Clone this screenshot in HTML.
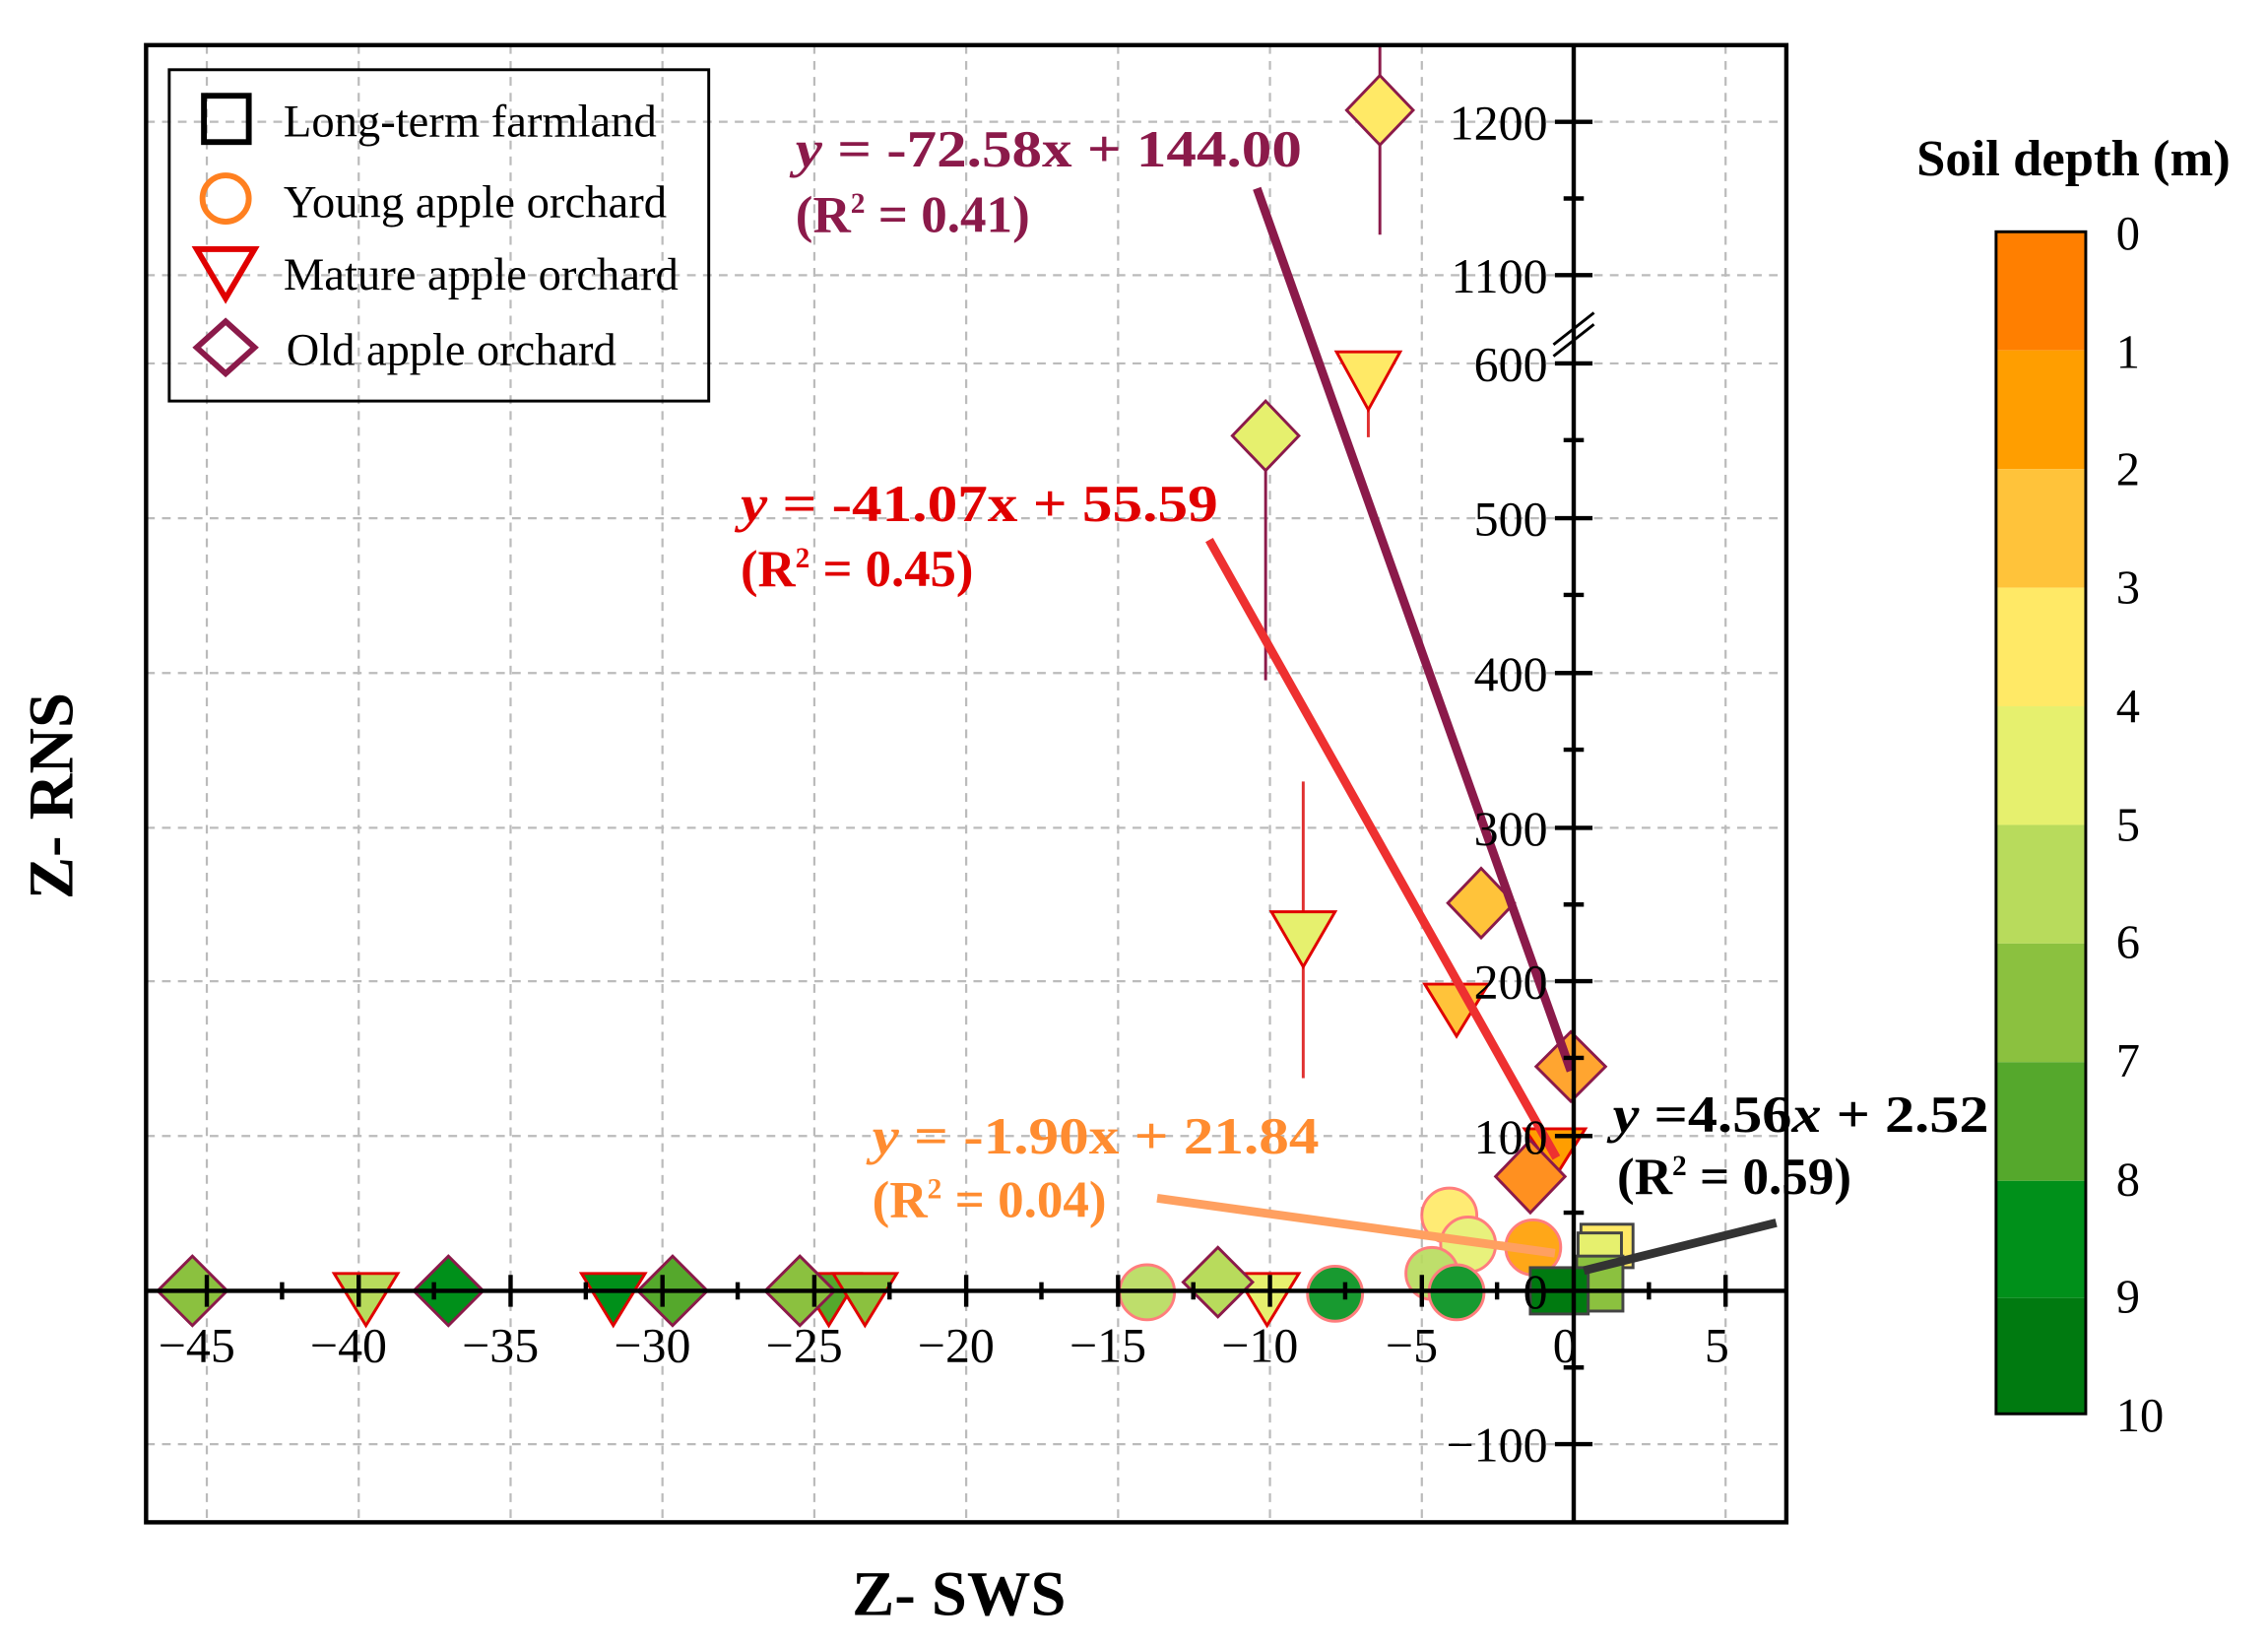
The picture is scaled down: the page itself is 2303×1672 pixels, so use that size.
<!DOCTYPE html>
<html><head><meta charset="utf-8"><style>html,body{margin:0;padding:0;background:#fff}svg{display:block}</style></head><body>
<svg width="2303" height="1672" viewBox="0 0 1568 1138" xmlns="http://www.w3.org/2000/svg" font-family="Liberation Serif, serif">
<rect width="1568" height="1138" fill="#fff"/>
<g stroke="#bbb" stroke-width="1.5" stroke-dasharray="6,5">
<line x1="143" y1="31" x2="143" y2="1052"/><line x1="248" y1="31" x2="248" y2="1052"/><line x1="353" y1="31" x2="353" y2="1052"/><line x1="458" y1="31" x2="458" y2="1052"/><line x1="563" y1="31" x2="563" y2="1052"/><line x1="668" y1="31" x2="668" y2="1052"/><line x1="773" y1="31" x2="773" y2="1052"/><line x1="878" y1="31" x2="878" y2="1052"/><line x1="983" y1="31" x2="983" y2="1052"/><line x1="1193" y1="31" x2="1193" y2="1052"/>
<line x1="101" y1="84" x2="1235" y2="84"/><line x1="101" y1="190" x2="1235" y2="190"/><line x1="101" y1="251" x2="1235" y2="251"/><line x1="101" y1="358" x2="1235" y2="358"/><line x1="101" y1="465" x2="1235" y2="465"/><line x1="101" y1="572" x2="1235" y2="572"/><line x1="101" y1="678" x2="1235" y2="678"/><line x1="101" y1="785" x2="1235" y2="785"/><line x1="101" y1="998" x2="1235" y2="998"/>
</g>
<!-- legend -->
<rect x="117" y="48" width="373" height="229" fill="none" stroke="#000" stroke-width="2"/>
<rect x="141" y="66" width="31" height="32" fill="none" stroke="#000" stroke-width="4"/>
<circle cx="156" cy="137" r="16" fill="none" stroke="#FF8020" stroke-width="4"/>
<polygon points="136,172 176,172 156,206" fill="none" stroke="#E00000" stroke-width="4"/>
<polygon points="156,222 176,240 156,258 136,240" fill="none" stroke="#8B1A4A" stroke-width="4"/>
<g font-size="32" fill="#000"><text x="196" y="94" textLength="258" lengthAdjust="spacingAndGlyphs">Long-term farmland</text><text x="196" y="150" textLength="265" lengthAdjust="spacingAndGlyphs">Young apple orchard</text><text x="196" y="200" textLength="273" lengthAdjust="spacingAndGlyphs">Mature apple orchard</text><text x="198" y="252" textLength="228" lengthAdjust="spacingAndGlyphs">Old apple orchard</text></g>
<!-- error bars -->
<g stroke-width="2"><line x1="954" y1="30" x2="954" y2="162" stroke="#8B1A4A"/><line x1="875" y1="301" x2="875" y2="470" stroke="#8B1A4A"/><line x1="946" y1="243" x2="946" y2="302" stroke="#E03030"/><line x1="901" y1="540" x2="901" y2="745" stroke="#E03030"/></g>
<!-- circles -->
<g stroke="#FF7070" stroke-width="2" opacity="0.9">
<circle cx="1002" cy="840" r="19" fill="#FFE966"/><circle cx="1015" cy="860" r="19" fill="#E6F06E"/><circle cx="1060" cy="862" r="19" fill="#FF9E00"/><circle cx="990" cy="880" r="18" fill="#B8DB5C"/><circle cx="1007" cy="893" r="19" fill="#00901A"/><circle cx="923" cy="894" r="19" fill="#00901A"/><circle cx="793" cy="893" r="19" fill="#B8DB5C"/>
</g>
<!-- squares -->
<g stroke="#444" stroke-width="2"><rect x="1093" y="846" width="36" height="30" fill="#FFE966"/><rect x="1091" y="852" width="30" height="30" fill="#E6F06E"/><rect x="1090" y="868" width="32" height="38" fill="#8BC13F"/><rect x="1058" y="876" width="40" height="32" fill="#007A10"/></g>
<!-- triangles -->
<g stroke="#E00000" stroke-width="2">
<polygon points="924,243 968,243 946,283" fill="#FFE966"/><polygon points="879,630 923,630 901,668" fill="#E6F06E"/><polygon points="985,680 1029,680 1007,716" fill="#FFC33A"/><polygon points="1054,780 1096,780 1076,812" fill="#FF9E00"/>
<polygon points="231,880 275,880 253,916" fill="#B8DB5C"/><polygon points="402,880 446,880 424,916" fill="#00901A"/><polygon points="551,880 595,880 573,916" fill="#55A82C"/><polygon points="576,880 620,880 598,916" fill="#8BC13F"/><polygon points="854,880 898,880 876,916" fill="#E6F06E"/>
</g>
<!-- diamonds -->
<g stroke="#8B1A4A" stroke-width="2">
<polygon points="954,52 977,76 954,100 931,76" fill="#FFE966"/><polygon points="875,277 898,301 875,325 852,301" fill="#E6F06E"/><polygon points="1024,600 1047,624 1024,648 1001,624" fill="#FFC33A"/><polygon points="1086,713 1110,737 1086,761 1062,737" fill="#FFA530"/><polygon points="1058,788 1082,813 1058,838 1034,813" fill="#FF9020"/>
<polygon points="133,868 157,892 133,916 109,892" fill="#8BC13F"/><polygon points="310,868 334,892 310,916 286,892" fill="#00901A"/><polygon points="465,868 489,892 465,916 441,892" fill="#55A82C"/><polygon points="553,868 577,892 553,916 529,892" fill="#8BC13F"/><polygon points="842,862 866,886 842,910 818,886" fill="#B8DB5C"/>
</g>
<!-- regression lines -->
<g stroke-width="6"><line x1="869" y1="130" x2="1086" y2="740" stroke="#8B1A4A"/><line x1="836" y1="373" x2="1076" y2="800" stroke="#EE3030"/><line x1="800" y1="828" x2="1075" y2="866" stroke="#FFA060"/><line x1="1095" y1="878" x2="1228" y2="845" stroke="#333"/></g>
<!-- axes -->
<rect x="101" y="31" width="1134" height="1021" fill="none" stroke="#000" stroke-width="3"/>
<line x1="1088" y1="31" x2="1088" y2="1052" stroke="#000" stroke-width="3"/>
<line x1="101" y1="892" x2="1235" y2="892" stroke="#000" stroke-width="3"/>
<line x1="1074" y1="238" x2="1102" y2="216" stroke="#000" stroke-width="2"/><line x1="1074" y1="246" x2="1102" y2="224" stroke="#000" stroke-width="2"/>
<g stroke="#000" stroke-width="3">
<path d="M1075 84H1101M1075 190H1101M1075 251H1101M1075 358H1101M1075 465H1101M1075 572H1101M1075 678H1101M1075 785H1101M1075 998H1101"/>
<path d="M1081 137H1095M1081 304H1095M1081 411H1095M1081 518H1095M1081 625H1095M1081 731H1095M1081 838H1095M1081 945H1095"/>
<path d="M143 881V903M248 881V903M353 881V903M458 881V903M563 881V903M668 881V903M773 881V903M878 881V903M983 881V903M1193 881V903"/>
<path d="M195 886V898M300 886V898M405 886V898M510 886V898M615 886V898M720 886V898M825 886V898M930 886V898M1035 886V898M1140 886V898"/>
</g>
<g font-size="34" text-anchor="end" fill="#000"><text x="1070" y="96">1200</text><text x="1070" y="202">1100</text><text x="1070" y="263">600</text><text x="1070" y="370">500</text><text x="1070" y="477">400</text><text x="1070" y="584">300</text><text x="1070" y="690">200</text><text x="1070" y="797">100</text><text x="1070" y="904">0</text><text x="1070" y="1010">−100</text></g>
<g font-size="34" text-anchor="middle" fill="#000"><text x="136" y="941">−45</text><text x="241" y="941">−40</text><text x="346" y="941">−35</text><text x="451" y="941">−30</text><text x="556" y="941">−25</text><text x="661" y="941">−20</text><text x="766" y="941">−15</text><text x="871" y="941">−10</text><text x="976" y="941">−5</text><text x="1082" y="941">0</text><text x="1187" y="941">5</text></g>
<!-- equations -->
<g font-size="36" font-weight="bold">
<text x="550" y="115" fill="#8B1A4A" textLength="350" lengthAdjust="spacingAndGlyphs"><tspan font-style="italic">y</tspan> = -72.58x + 144.00</text><text x="550" y="160" fill="#8B1A4A" textLength="162" lengthAdjust="spacingAndGlyphs">(R<tspan font-size="20" dy="-13">2</tspan><tspan dy="13"> = 0.41)</tspan></text>
<text x="512" y="360" fill="#E00000" textLength="330" lengthAdjust="spacingAndGlyphs"><tspan font-style="italic">y</tspan> = -41.07x + 55.59</text><text x="512" y="405" fill="#E00000" textLength="161" lengthAdjust="spacingAndGlyphs">(R<tspan font-size="20" dy="-13">2</tspan><tspan dy="13"> = 0.45)</tspan></text>
<text x="603" y="797" fill="#FF8C30" textLength="309" lengthAdjust="spacingAndGlyphs"><tspan font-style="italic">y</tspan> = -1.90x + 21.84</text><text x="603" y="841" fill="#FF8C30" textLength="162" lengthAdjust="spacingAndGlyphs">(R<tspan font-size="20" dy="-13">2</tspan><tspan dy="13"> = 0.04)</tspan></text>
<text x="1115" y="782" fill="#000" textLength="260" lengthAdjust="spacingAndGlyphs"><tspan font-style="italic">y</tspan> =4.56<tspan font-style="italic">x</tspan> + 2.52</text><text x="1118" y="825" fill="#000" textLength="162" lengthAdjust="spacingAndGlyphs">(R<tspan font-size="20" dy="-13">2</tspan><tspan dy="13"> = 0.59)</tspan></text>
</g>
<!-- axis titles -->
<text x="663" y="1116" font-size="44" font-weight="bold" text-anchor="middle">Z- SWS</text>
<text transform="translate(50,550) rotate(-90)" font-size="44" font-weight="bold" text-anchor="middle">Z- RNS</text>
<!-- colorbar -->
<text x="1325" y="121" font-size="35" font-weight="bold" textLength="217" lengthAdjust="spacingAndGlyphs">Soil depth (m)</text>
<g>
<rect x="1380" y="160" width="62" height="82" fill="#FF7F00"/><rect x="1380" y="242" width="62" height="82" fill="#FF9E00"/><rect x="1380" y="324" width="62" height="82" fill="#FFC33A"/><rect x="1380" y="406" width="62" height="82" fill="#FFE966"/><rect x="1380" y="488" width="62" height="82" fill="#E6F06E"/><rect x="1380" y="570" width="62" height="82" fill="#B8DB5C"/><rect x="1380" y="652" width="62" height="82" fill="#8BC13F"/><rect x="1380" y="734" width="62" height="82" fill="#55A82C"/><rect x="1380" y="816" width="62" height="81" fill="#00901A"/><rect x="1380" y="897" width="62" height="80" fill="#007A10"/>
<rect x="1380" y="160" width="62" height="817" fill="none" stroke="#000" stroke-width="2"/>
</g>
<g font-size="33" fill="#000"><text x="1463" y="172">0</text><text x="1463" y="254">1</text><text x="1463" y="335">2</text><text x="1463" y="417">3</text><text x="1463" y="499">4</text><text x="1463" y="581">5</text><text x="1463" y="662">6</text><text x="1463" y="744">7</text><text x="1463" y="826">8</text><text x="1463" y="907">9</text><text x="1463" y="989">10</text></g>
</svg>
</body></html>
